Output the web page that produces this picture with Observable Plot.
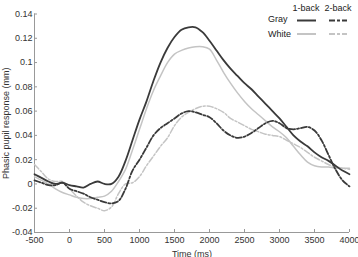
<!DOCTYPE html>
<html>
<head>
<meta charset="utf-8">
<script src="https://cdn.jsdelivr.net/npm/d3@7"></script>
<script src="https://cdn.jsdelivr.net/npm/@observablehq/plot@0.6"></script>
<style>
  html, body { margin: 0; padding: 0; background: #fff; }
  #wrap { position: relative; width: 358px; height: 257px; font-family: "Liberation Sans", Arial, sans-serif; }
  #legend { position: absolute; left: 0; top: 0; width: 358px; height: 45px; font-size: 9px; color: #222; }
  #legend span { position: absolute; white-space: nowrap; line-height: 1; }
  #legend svg { position: absolute; left: 0; top: 0; overflow: visible; }
</style>
</head>
<body>
<div id="wrap"><div id="chart"></div><div id="legend"></div></div>
<script>
const time = [-500,-400,-300,-200,-100,0,100,200,300,400,500,600,700,800,900,1000,1100,1200,1300,1400,1500,1600,1700,1800,1900,2000,2100,2200,2300,2400,2500,2600,2700,2800,2900,3000,3100,3200,3300,3400,3500,3600,3700,3800,3900,4000];
const gray1back = [0.008,0.005,0.002,0.000,0.001,-0.001,-0.002,-0.003,0.000,0.002,0.000,0.000,0.006,0.019,0.036,0.053,0.068,0.085,0.100,0.112,0.121,0.127,0.129,0.129,0.125,0.118,0.110,0.102,0.095,0.089,0.083,0.078,0.072,0.066,0.060,0.054,0.047,0.040,0.035,0.031,0.026,0.022,0.019,0.015,0.011,0.008];
const white1back = [0.006,0.003,0.000,-0.004,-0.007,-0.009,-0.011,-0.012,-0.012,-0.011,-0.010,-0.006,0.002,0.012,0.028,0.045,0.062,0.077,0.089,0.100,0.107,0.110,0.112,0.113,0.113,0.111,0.102,0.092,0.083,0.075,0.068,0.062,0.057,0.052,0.047,0.043,0.038,0.031,0.024,0.018,0.015,0.014,0.014,0.013,0.013,0.013];
const gray2back = [0.003,0.001,-0.001,-0.001,0.001,-0.004,-0.006,-0.008,-0.011,-0.013,-0.015,-0.016,-0.014,-0.004,0.011,0.020,0.030,0.040,0.046,0.050,0.054,0.058,0.060,0.059,0.057,0.055,0.050,0.044,0.040,0.038,0.039,0.042,0.046,0.050,0.052,0.050,0.046,0.045,0.046,0.047,0.044,0.036,0.024,0.012,0.003,-0.002];
const white2back = [0.016,0.010,0.004,0.002,0.002,-0.004,-0.010,-0.015,-0.018,-0.020,-0.022,-0.019,-0.008,0.000,0.001,0.006,0.015,0.023,0.031,0.038,0.048,0.055,0.059,0.062,0.064,0.064,0.062,0.059,0.054,0.051,0.048,0.045,0.043,0.041,0.040,0.039,0.036,0.033,0.030,0.026,0.022,0.019,0.016,0.014,0.013,0.012];
const xTicks = [-500,0,500,1000,1500,2000,2500,3000,3500,4000];
const yTicks = [-0.04,-0.02,0,0.02,0.04,0.06,0.08,0.1,0.12,0.14];
const rowLabels = ["Gray", "White"];
const colLabels = ["1-back", "2-back"];

const DARK = "#3a3a3a", LIGHT = "#c4c4c4";
const series = [
  {name: "Gray 1-back", values: gray1back, stroke: DARK, dash: null, w: 1.8},
  {name: "White 1-back", values: white1back, stroke: LIGHT, dash: null, w: 1.5},
  {name: "Gray 2-back", values: gray2back, stroke: DARK, dash: "6,2,2,2", w: 1.8},
  {name: "White 2-back", values: white2back, stroke: LIGHT, dash: "6,2,2,2", w: 1.5}
];
const fmt = d => String(+d.toFixed(2));
const drawOrder = [1, 3, 2, 0];
const lineMarks = drawOrder.map(i => {
  const s = series[i];
  const data = time.map((t, j) => ({t, v: s.values[j]}));
  return Plot.line(data, {x: "t", y: "v", stroke: s.stroke, strokeWidth: s.w, strokeDasharray: s.dash, curve: "catmull-rom"});
});

const chart = Plot.plot({
  width: 358, height: 257,
  marginTop: 13.5, marginBottom: 25, marginLeft: 34, marginRight: 9,
  style: {fontFamily: "'Liberation Sans', Arial, sans-serif", fontSize: "9px", color: "#333", background: "#fff", overflow: "visible"},
  x: {domain: [-500, 4000]},
  y: {domain: [-0.04, 0.14]},
  marks: [
    Plot.ruleX([-500], {stroke: "#999"}),
    Plot.ruleY([-0.04], {stroke: "#999"}),
    Plot.axisX({ticks: xTicks, tickFormat: fmt, tickSize: -3, tickPadding: 7, stroke: "#999", label: null, fill: "#333"}),
    Plot.axisY({ticks: yTicks, tickFormat: fmt, tickSize: -3, tickPadding: 5, stroke: "#999", label: null, fill: "#333"}),
    Plot.axisX({ticks: [], label: "Time (ms)", labelAnchor: "center", labelArrow: "none", labelOffset: 24, fill: "#333"}),
    Plot.axisY({ticks: [], label: "Phasic pupil response (mm)", labelAnchor: "center", labelArrow: "none", labelOffset: 32, fill: "#333"}),
    ...lineMarks
  ]
});
document.getElementById("chart").appendChild(chart);

// legend overlay
const lg = document.getElementById("legend");
const addText = (txt, left, top, anchor) => {
  const s = document.createElement("span");
  s.textContent = txt;
  s.style.left = left + "px"; s.style.top = top + "px";
  if (anchor === "middle") s.style.transform = "translateX(-50%)";
  lg.appendChild(s);
};
addText(colLabels[0], 306, 4, "middle");
addText(colLabels[1], 338, 4, "middle");
addText(rowLabels[0], 268, 15);
addText(rowLabels[1], 268, 30);
const ns = "http://www.w3.org/2000/svg";
const svg = document.createElementNS(ns, "svg");
svg.setAttribute("width", 358); svg.setAttribute("height", 45);
const seg = (x1, x2, y, stroke, dash) => {
  const l = document.createElementNS(ns, "line");
  l.setAttribute("x1", x1); l.setAttribute("x2", x2);
  l.setAttribute("y1", y); l.setAttribute("y2", y);
  l.setAttribute("stroke", stroke); l.setAttribute("stroke-width", 2);
  if (dash) l.setAttribute("stroke-dasharray", dash);
  svg.appendChild(l);
};
seg(297, 316, 20.5, DARK, null);
seg(329, 347, 20.5, DARK, "6,2,3,2");
seg(297, 316, 34, LIGHT, null);
seg(329, 347, 34, LIGHT, "6,2,3,2");
lg.appendChild(svg);
</script>
</body>
</html>
